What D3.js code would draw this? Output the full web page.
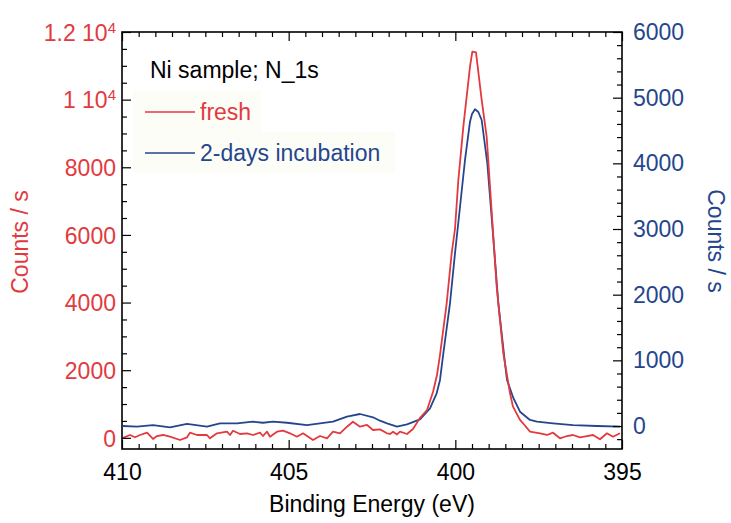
<!DOCTYPE html>
<html>
<head>
<meta charset="utf-8">
<script src="https://cdn.jsdelivr.net/npm/d3@7"></script>
<style>
  html, body { margin: 0; padding: 0; background: #ffffff; }
  svg { display: block; font-family: "Liberation Sans", Arial, Helvetica, sans-serif; }
</style>
</head>
<body>
<svg id="chart" width="731" height="523"></svg>
<script>
// ---- Data ----
const freshEV = [409.97,409.76,409.61,409.46,409.25,409.07,408.95,408.77,408.56,408.26,408.05,407.96,407.75,407.45,407.36,407.15,406.85,406.76,406.67,406.46,406.25,406.07,405.86,405.77,405.65,405.56,405.35,405.17,404.96,404.75,404.57,404.27,404.06,403.85,403.67,403.46,403.25,403.07,402.86,402.65,402.47,402.26,402.05,401.96,401.87,401.75,401.66,401.45,401.27,401.06,400.85,400.67,400.55,400.46,400.26,400.11,400.01,399.91,399.76,399.56,399.49,399.38,399.21,399.06,398.91,398.76,398.56,398.36,398.27,398.06,397.97,397.76,397.46,397.25,397.07,396.86,396.65,396.47,396.26,396.05,395.87,395.66,395.45,395.27,395.06];
const freshCounts = [0,84,16,84,152,-34,54,84,34,-64,16,152,84,84,-14,134,182,84,211,114,134,84,152,54,182,34,182,211,134,34,134,-64,54,-14,182,134,329,477,329,380,232,250,134,114,182,100,182,114,260,590,823,1355,1858,2450,3978,5457,6175,7624,9200,10975,11420,11400,9990,8905,6690,4469,2500,1317,921,530,430,182,134,84,152,-14,54,84,16,54,84,-43,134,34,134];

const incubEV = [409.97,409.55,409.07,408.56,408.05,407.45,407.06,406.55,406.07,405.77,405.47,405.05,404.45,404.06,403.67,403.25,402.86,402.47,402.26,402.05,401.75,401.45,401.06,400.76,400.56,400.46,400.36,400.16,400.01,399.91,399.71,399.56,399.50,399.41,399.31,399.21,399.04,398.88,398.71,398.51,398.45,398.26,398.06,397.76,397.55,397.07,396.47,395.75,395.06];
const incubCounts = [0,-10,15,-20,31,-10,41,41,66,50,66,50,15,41,66,142,183,133,81,41,-10,25,102,270,498,701,1107,1869,2630,3099,4051,4634,4751,4823,4782,4660,3999,2985,1869,955,701,427,218,92,66,41,15,0,-10];

const xTicks = [410, 405, 400, 395];
const leftTicks = [0, 2000, 4000, 6000, 8000, 10000, 12000];
const leftTickLabels = ["0", "2000", "4000", "6000", "8000", "1 10^4", "1.2 10^4"];
const rightTicks = [0, 1000, 2000, 3000, 4000, 5000, 6000];
const seriesNames = ["fresh", "2-days incubation"];
const annotation = "Ni sample; N_1s";
const xTitle = "Binding Energy (eV)";
const yTitle = "Counts / s";

// ---- Layout ----
const RED = "#e23a3f";
const BLUE = "#25468d";
const FS = 23;
const L = 122, R = 622, T = 32, B = 449;

const svg = d3.select("#chart");
const x = d3.scaleLinear().domain([410, 395]).range([L, R]);
const yL = d3.scaleLinear().domain([-330, 12000]).range([B, T]);
const yR = d3.scaleLinear().domain([-350, 6000]).range([B, T]);

const minorX = d3.range(395, 410.001, 0.5).filter(v => Math.abs(v % 5) > 1e-6 && Math.abs((v % 5) - 5) > 1e-6);
const minorL = d3.range(0, 12001, 500).filter(v => v % 2000 !== 0);
const minorR = d3.range(-200, 6001, 200).filter(v => v % 1000 !== 0);

// Legend faint background
svg.append("rect").attr("x", 133).attr("y", 90).attr("width", 128).attr("height", 42).attr("fill", "#fdfdf8");
svg.append("rect").attr("x", 133).attr("y", 132).attr("width", 262).attr("height", 41).attr("fill", "#fdfdf8");

// Data lines
const lineFresh = d3.line().x((d, i) => x(freshEV[i])).y((d) => yL(d));
const lineInc = d3.line().x((d, i) => x(incubEV[i])).y((d) => yR(d));

svg.append("path").datum(incubCounts).attr("d", lineInc)
  .attr("fill", "none").attr("stroke", BLUE).attr("stroke-width", 1.8).attr("stroke-linejoin", "round");
svg.append("path").datum(freshCounts).attr("d", lineFresh)
  .attr("fill", "none").attr("stroke", RED).attr("stroke-width", 1.8).attr("stroke-linejoin", "round");

function styleAxis(g) {
  g.select(".domain").remove();
  g.selectAll(".tick line").attr("stroke", "#000").attr("stroke-width", 1.2);
  g.selectAll(".tick text").attr("font-size", FS).attr("font-family", "Liberation Sans, Arial, sans-serif");
}
function styleMinor(g) {
  g.select(".domain").remove();
  g.selectAll("line").attr("stroke", "#000").attr("stroke-width", 1.2);
}

// bottom
const gB = svg.append("g").attr("transform", `translate(0,${B})`)
  .call(d3.axisBottom(x).tickValues(xTicks).tickFormat(d3.format("d")).tickSizeInner(-9).tickSizeOuter(0).tickPadding(15));
styleAxis(gB);
gB.selectAll(".tick text").attr("fill", "#000");
svg.append("g").attr("transform", `translate(0,${B})`)
  .call(d3.axisBottom(x).tickValues(minorX).tickFormat("").tickSizeInner(-5).tickSizeOuter(0))
  .call(styleMinor);

// top
svg.append("g").attr("transform", `translate(0,${T})`)
  .call(d3.axisTop(x).tickValues(xTicks).tickFormat("").tickSizeInner(-9).tickSizeOuter(0))
  .call(styleMinor);
svg.append("g").attr("transform", `translate(0,${T})`)
  .call(d3.axisTop(x).tickValues(minorX).tickFormat("").tickSizeInner(-5).tickSizeOuter(0))
  .call(styleMinor);

// left
const gL = svg.append("g").attr("transform", `translate(${L},0)`)
  .call(d3.axisLeft(yL).tickValues(leftTicks).tickFormat("").tickSizeInner(-9).tickSizeOuter(0).tickPadding(6));
styleAxis(gL);
gL.selectAll(".tick text").each(function(d) {
  const t = d3.select(this).attr("fill", RED).attr("dy", "0.36em");
  const lab = leftTickLabels[leftTicks.indexOf(d)];
  if (lab.includes("^")) {
    const [base, exp] = lab.split("^");
    t.append("tspan").text(base);
    t.append("tspan").attr("font-size", 15).attr("dy", "-0.55em").text(exp);
  } else {
    t.text(lab);
  }
});
svg.append("g").attr("transform", `translate(${L},0)`)
  .call(d3.axisLeft(yL).tickValues(minorL).tickFormat("").tickSizeInner(-5).tickSizeOuter(0))
  .call(styleMinor);

// right
const gR = svg.append("g").attr("transform", `translate(${R},0)`)
  .call(d3.axisRight(yR).tickValues(rightTicks).tickFormat(d3.format("d")).tickSizeInner(-9).tickSizeOuter(0).tickPadding(11));
styleAxis(gR);
gR.selectAll(".tick text").attr("fill", BLUE);
svg.append("g").attr("transform", `translate(${R},0)`)
  .call(d3.axisRight(yR).tickValues(minorR).tickFormat("").tickSizeInner(-5).tickSizeOuter(0))
  .call(styleMinor);

// Frame
svg.append("rect").attr("x", L).attr("y", T).attr("width", R - L).attr("height", B - T)
  .attr("fill", "none").attr("stroke", "#000").attr("stroke-width", 1.6);

// Titles
svg.append("text").attr("x", (L + R) / 2).attr("y", 512).attr("text-anchor", "middle")
  .attr("font-size", FS).attr("fill", "#000").text(xTitle);
svg.append("text").attr("transform", "translate(28,242) rotate(-90)").attr("text-anchor", "middle")
  .attr("font-size", FS).attr("fill", RED).text(yTitle);
svg.append("text").attr("transform", "translate(708,241) rotate(90)").attr("text-anchor", "middle")
  .attr("font-size", FS).attr("fill", BLUE).text(yTitle);

// Annotation + legend
svg.append("text").attr("x", 150).attr("y", 78).attr("font-size", FS).attr("fill", "#000").text(annotation);
const legend = [
  { name: seriesNames[0], color: RED, y: 112 },
  { name: seriesNames[1], color: BLUE, y: 153 }
];
legend.forEach(l => {
  svg.append("line").attr("x1", 145).attr("x2", 195).attr("y1", l.y).attr("y2", l.y)
    .attr("stroke", l.color).attr("stroke-width", 1.5);
  svg.append("text").attr("x", 200).attr("y", l.y + 8).attr("font-size", FS).attr("fill", l.color).text(l.name);
});
</script>
</body>
</html>
